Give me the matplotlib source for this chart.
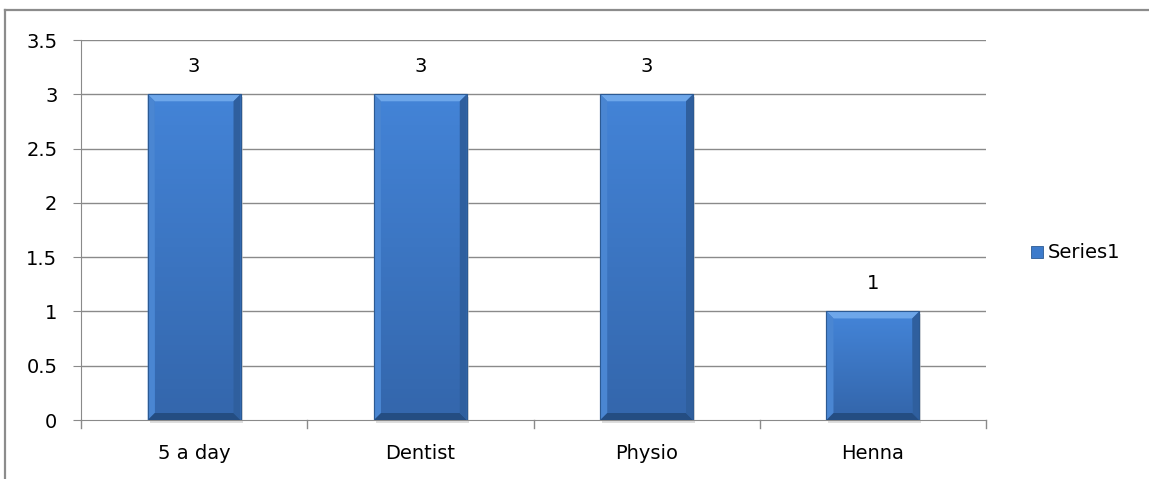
import matplotlib
matplotlib.use("Agg")
import matplotlib.pyplot as plt
from matplotlib.patches import Polygon, Rectangle
from matplotlib.lines import Line2D
from matplotlib.colors import LinearSegmentedColormap
import numpy as np

categories = ["5 a day", "Dentist", "Physio", "Henna"]
values = [3, 3, 3, 1]
y_ticks = [0, 0.5, 1, 1.5, 2, 2.5, 3, 3.5]
y_tick_labels = ["0", "0.5", "1", "1.5", "2", "2.5", "3", "3.5"]
series_name = "Series1"

plt.rcParams["font.family"] = ["DejaVu Sans"]
FS = 14

W, H = 1149, 479
fig = plt.figure(figsize=(W / 100, H / 100), dpi=100)
fig.patch.set_facecolor("white")

# outer chart frame
frame_c = "#8c8c8c"
fig.add_artist(Line2D([5 / W, 5 / W], [0, 1 - 10 / H], transform=fig.transFigure,
                      color=frame_c, lw=1.6))
fig.add_artist(Line2D([5 / W, 1], [1 - 10 / H, 1 - 10 / H], transform=fig.transFigure,
                      color=frame_c, lw=1.6))

left, right, top, bottom = 81, 986, 40, 420
ax = fig.add_axes([left / W, 1 - bottom / H, (right - left) / W, (bottom - top) / H])
ax.set_xlim(-0.5, len(categories) - 0.5)
ax.set_ylim(0, 3.5)
px_y = 3.5 / (bottom - top)
px_x = len(categories) / (right - left)

grid_c = "#8a8a8a"
for s in ["top", "right"]:
    ax.spines[s].set_visible(False)
ax.spines["left"].set_color(grid_c)
ax.spines["bottom"].set_color(grid_c)

ax.set_yticks(y_ticks)
ax.set_yticklabels(y_tick_labels, fontsize=FS)
for y in y_ticks[1:]:
    ax.axhline(y, color=grid_c, lw=1.0, zorder=0)

x = np.arange(len(categories))
ax.set_xticks(x)
ax.set_xticklabels(categories, fontsize=FS)
ax.tick_params(axis="x", length=0, pad=17)
ax.tick_params(axis="y", length=6, color=grid_c, pad=11, direction="out")
# category boundary ticks below the axis
for b in np.arange(-0.5, len(categories), 1.0):
    ax.plot([b, b], [0, -8 * px_y], color=grid_c, lw=1.0, clip_on=False, zorder=1)

bar_w = 0.41
bars = ax.bar(x, values, width=bar_w, color="#3d7bcb", edgecolor="#2c5a93",
              linewidth=0.8, zorder=3)

# bevelled faces on each bar
bx = 7 * px_x
by = 7 * px_y
face_cmap = LinearSegmentedColormap.from_list("face", ["#3467ad", "#4383d6"])
for rect, v in zip(bars, values):
    x0, x1 = rect.get_x(), rect.get_x() + rect.get_width()
    y0, y1 = 0, v
    # soft drop shadow
    ax.add_patch(Rectangle((x0 + 2 * px_x, y0 - 3 * px_y), x1 - x0, y1 - y0,
                           color="#c8c8c8", alpha=0.6, zorder=2, lw=0, clip_on=False))
    grad = np.linspace(0, 1, 64).reshape(-1, 1)
    ax.imshow(grad, extent=(x0 + bx, x1 - bx, y0 + by, y1 - by), origin="lower",
              cmap=face_cmap, aspect="auto", zorder=3.5)
    ax.add_patch(Polygon([(x0, y1), (x1, y1), (x1 - bx, y1 - by), (x0 + bx, y1 - by)],
                         closed=True, fc="#6ea7ea", ec="none", zorder=4))
    ax.add_patch(Polygon([(x0, y0), (x0, y1), (x0 + bx, y1 - by), (x0 + bx, y0 + by)],
                         closed=True, fc="#4a86d2", ec="none", zorder=4))
    ax.add_patch(Polygon([(x1, y0), (x1, y1), (x1 - bx, y1 - by), (x1 - bx, y0 + by)],
                         closed=True, fc="#2f5f9e", ec="none", zorder=4))
    ax.add_patch(Polygon([(x0, y0), (x1, y0), (x1 - bx, y0 + by), (x0 + bx, y0 + by)],
                         closed=True, fc="#244d82", ec="none", zorder=4))
    ax.add_patch(Rectangle((x0, y0), x1 - x0, y1 - y0, fill=False, ec="#2c5a93",
                           lw=0.8, zorder=5))
    ax.text(rect.get_x() + rect.get_width() / 2, v + 18 * px_y, f"{v:g}", ha="center",
            va="bottom", fontsize=FS, zorder=6)

ax.set_facecolor("none")

# legend
lx, ly = 1031, 252
fig.add_artist(Rectangle((lx / W, 1 - (ly + 6) / H), 12 / W, 12 / H,
                         transform=fig.transFigure, fc="#3d7bcb", ec="#2c5a93", lw=0.6))
fig.text((lx + 17) / W, 1 - ly / H, series_name, fontsize=FS, va="center", ha="left")

fig.savefig("out.png", dpi=100, facecolor="white")
